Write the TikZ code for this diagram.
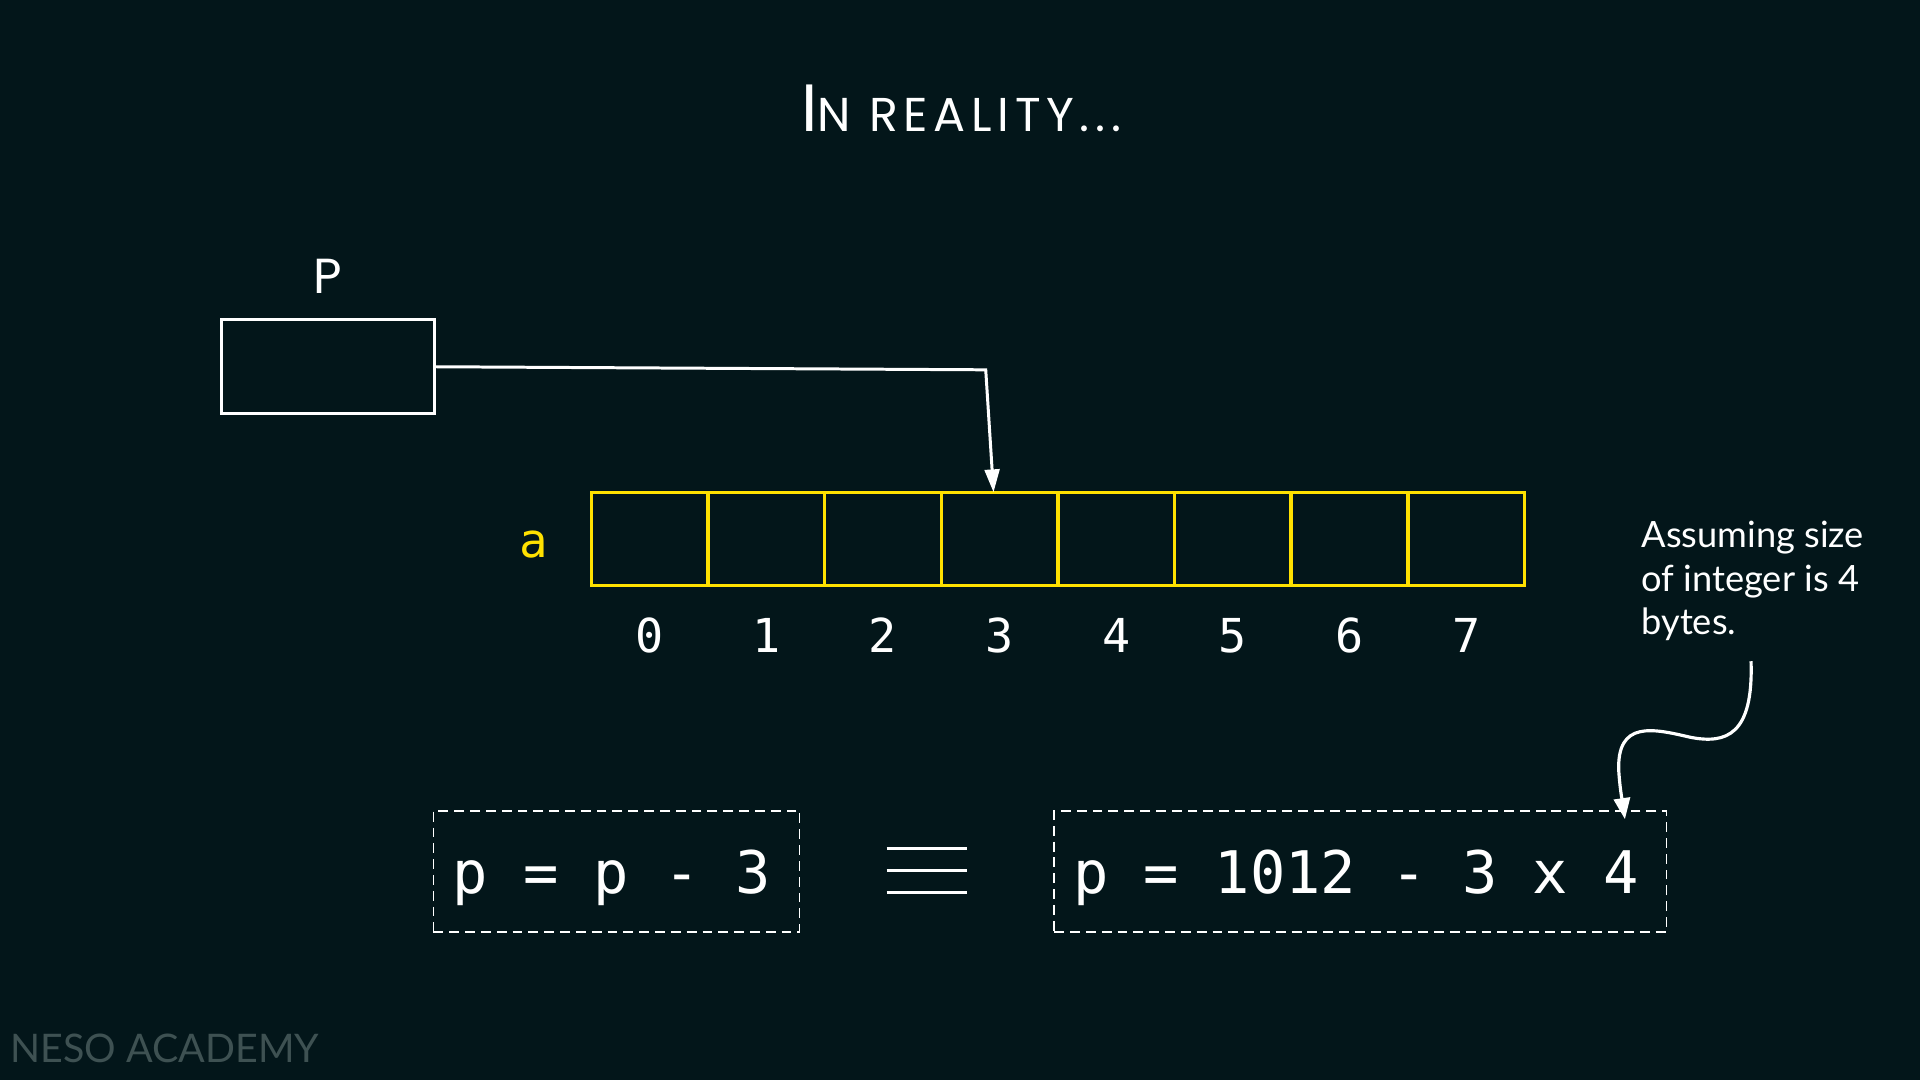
\documentclass[tikz,border=0pt]{standalone}
\usepackage{fontspec}
\setmainfont{Lato}
\newfontfamily\monof{DejaVu Sans Mono}
\newfontfamily\handf[LetterSpace=12]{Poppins}
\usetikzlibrary{arrows.meta,calc}
\definecolor{bg}{HTML}{03161A}
\definecolor{ylw}{HTML}{FFE100}
\definecolor{neso}{HTML}{3E5152}
\tikzset{
  cell/.style={draw=ylw, line width=1pt, minimum width=95.25*0.3482pt, minimum height=76*0.3482pt, inner sep=0pt, outer sep=0pt},
  idx/.style={text=white, font=\monof\fontsize{13.3}{14}\selectfont, anchor=base},
  eqtxt/.style={text=white, font=\monof\fontsize{16.7}{18}\selectfont, anchor=base, inner sep=0pt},
  dbox/.style={draw=white, line width=0.5pt, dash pattern=on 2.8pt off 1.7pt, inner sep=0pt},
  conn/.style={draw=white, line width=0.85pt, -{Triangle[length=6.5pt,width=4.2pt]}},
}
\begin{document}
\begin{tikzpicture}[x=0.012245cm,y=-0.012245cm]
\fill[bg] (0,0) rectangle (1568,882);
\useasboundingbox (0,0) rectangle (1568,882);
% title
\node[text=white, font=\handf, anchor=base, inner sep=0pt] (title) at (785,107)
  {\fontsize{19}{19}\selectfont I\fontsize{13.5}{13.5}\selectfont N REALITY...};
% pointer p
\node[text=white, font=\handf\fontsize{14}{14}\selectfont, anchor=base, inner sep=0pt] (plabel) at (268,240) {P};
\node[draw=white, line width=0.8pt, minimum width=174*0.3482pt, minimum height=77*0.3482pt, inner sep=0pt] (pbox) at (268,299.5) {};
% array
\node[text=ylw, font=\monof\fontsize{13.5}{14}\selectfont, anchor=base, inner sep=0pt] (alabel) at (436,455) {a};
\foreach \i in {0,...,7}{
  \node[cell] (c\i) at ({483+95.25*(\i+0.5)},440) {};
  \node[idx] (i\i) at ({483+95.25*(\i+0.5)},533) {\i};
}
% connector
\coordinate (bend) at (805,302);
\draw[conn] (pbox.east) -- (bend) -- ($(c3.north)+(-5,0)$);
% equations
\node[dbox, minimum width=299*0.3482pt, minimum height=99*0.3482pt] (e1) at (503.5,711.5) {};
\node[eqtxt] (t1) at (499.5,730) {p = p - 3};
\node[dbox, minimum width=500*0.3482pt, minimum height=99*0.3482pt] (e2) at (1111,711.5) {};
\node[eqtxt] (t2) at (1107.5,730) {p = 1012 - 3 x 4};
\draw[white, line width=0.9pt] (724,693) -- (790,693) (724,711) -- (790,711) (724,729) -- (790,729);
% annotation
\node[text=white, font=\fontsize{10.3}{12.4}\selectfont, align=left, anchor=north west, inner sep=0pt] (note) at (1340,425)
  {Assuming size\\of integer is 4\\bytes.};
\coordinate (nstart) at (1430,540);
\coordinate (ntip) at (1327,669);
\draw[white, line width=0.9pt, -{Triangle[length=6pt,width=4.6pt]}] (nstart)
  .. controls (1432,600) and (1410,608) .. (1380,602)
  .. controls (1350,595) and (1320,588) .. (1322,630)
  .. controls (1323,645) and (1325,655) .. (ntip);
% watermark
\node[text=neso, font=\fontsize{11.2}{11.2}\selectfont, anchor=base west, inner sep=0pt] (neso) at (8,868) {NESO ACADEMY};
\end{tikzpicture}
\end{document}
